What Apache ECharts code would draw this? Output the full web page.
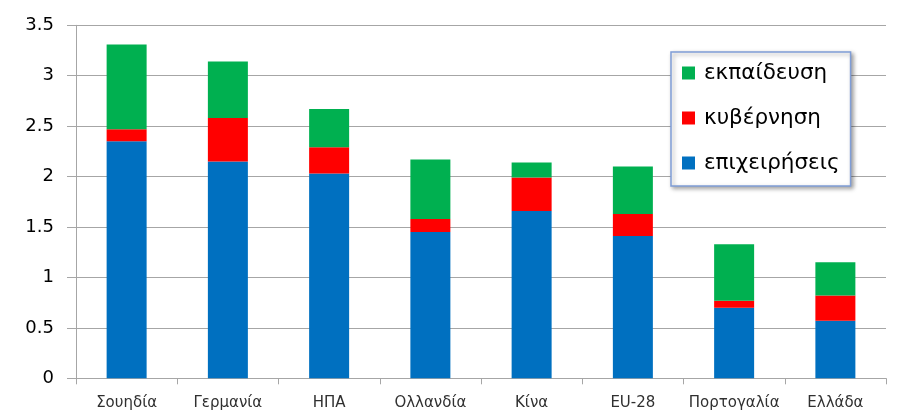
<!DOCTYPE html>
<html>
<head>
<meta charset="utf-8">
<script src="https://cdn.jsdelivr.net/npm/echarts@6/dist/echarts.min.js"></script>
<style>
  html, body { margin: 0; padding: 0; background: #ffffff; }
  #chart { width: 901px; height: 419px; }
</style>
</head>
<body>
<div id="chart"></div>
<script>
// R&D spending (% of GDP) by funding sector
const countries = ['Σουηδία', 'Γερμανία', 'ΗΠΑ', 'Ολλανδία', 'Κίνα', 'EU-28', 'Πορτογαλία', 'Ελλάδα'];
const business   = [2.35, 2.15, 2.03, 1.45, 1.66, 1.41, 0.70, 0.57];
const government = [0.12, 0.43, 0.26, 0.13, 0.33, 0.22, 0.07, 0.25];
const education  = [0.84, 0.56, 0.38, 0.59, 0.15, 0.47, 0.56, 0.33];
const yTicks = [0, 0.5, 1, 1.5, 2, 2.5, 3, 3.5];

const FONT = '"DejaVu Sans", "Open Sans", sans-serif';

const chart = echarts.init(document.getElementById('chart'), null, { renderer: 'canvas' });

function barSeries(name, data, color) {
  return {
    name: name,
    type: 'bar',
    stack: 'total',
    data: data,
    barWidth: 40,
    itemStyle: { color: color },
    emphasis: { disabled: true }
  };
}

chart.setOption({
  animation: false,
  backgroundColor: '#ffffff',
  textStyle: { fontFamily: FONT },
  grid: { left: 76, right: 15, top: 25.3, bottom: 40.7, containLabel: false },
  legend: {
    orient: 'vertical',
    left: 671,
    top: 52,
    data: ['εκπαίδευση', 'κυβέρνηση', 'επιχειρήσεις'],
    icon: 'rect',
    itemWidth: 13,
    itemHeight: 13,
    itemGap: 21,
    padding: [9, 11, 11, 11],
    backgroundColor: '#ffffff',
    borderColor: '#7f9dd6',
    borderWidth: 1.5,
    shadowColor: 'rgba(0,0,0,0.35)',
    shadowBlur: 4,
    shadowOffsetX: 2,
    shadowOffsetY: 2,
    textStyle: { fontFamily: FONT, fontSize: 21.5, color: '#000000', lineHeight: 24, padding: [0, 0, 0, 4] }
  },
  xAxis: {
    type: 'category',
    data: countries,
    axisLine: { lineStyle: { color: '#a6a6a6', width: 1 } },
    axisTick: { show: true, length: 6, alignWithLabel: false, lineStyle: { color: '#a6a6a6' } },
    axisLabel: { color: '#303030', fontSize: 15, fontFamily: FONT, margin: 17, interval: 0 }
  },
  yAxis: {
    type: 'value',
    min: 0,
    max: 3.5,
    interval: 0.5,
    axisLine: { show: true, lineStyle: { color: '#a6a6a6', width: 1 } },
    axisTick: { show: true, length: 9, lineStyle: { color: '#a6a6a6' } },
    axisLabel: {
      color: '#000000',
      fontSize: 18,
      fontFamily: FONT,
      margin: 22,
      formatter: function (v) {
        const t = yTicks.find(function (x) { return Math.abs(x - v) < 1e-9; });
        return t === undefined ? '' : String(t);
      }
    },
    splitLine: { show: true, lineStyle: { color: '#a6a6a6', width: 1 } }
  },
  series: [
    barSeries('επιχειρήσεις', business, '#0070c0'),
    barSeries('κυβέρνηση', government, '#ff0000'),
    barSeries('εκπαίδευση', education, '#00b050')
  ]
});
</script>
</body>
</html>
